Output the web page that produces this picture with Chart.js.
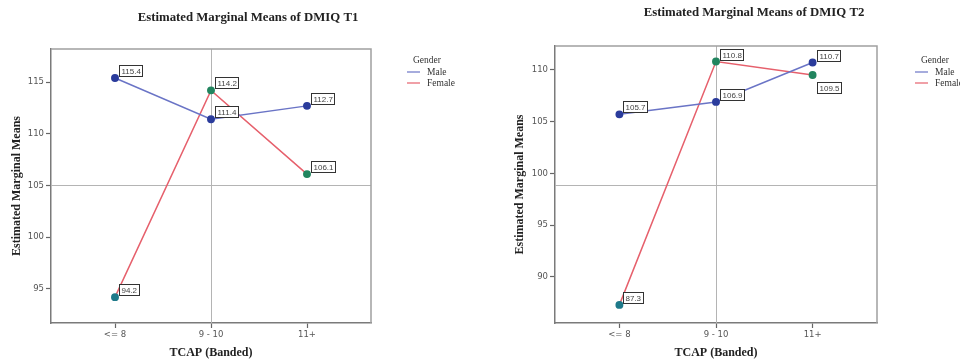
<!DOCTYPE html>
<html>
<head>
<meta charset="utf-8">
<script src="https://cdn.jsdelivr.net/npm/chart.js@4.4.0/dist/chart.umd.min.js"></script>
<style>
  html, body { margin: 0; padding: 0; background: #fff; }
  #wrap { position: relative; width: 960px; height: 363px; overflow: hidden; }
  canvas { position: absolute; top: 0; }
  #chartT1 { left: 0; }
  #chartT2 { left: 480px; }
</style>
</head>
<body>
<div id="wrap">
  <canvas id="chartT1" width="480" height="363"></canvas>
  <canvas id="chartT2" width="480" height="363"></canvas>
</div>
<script>
// TCAP bands on the x axis
const tcapBands = ["<= 8", "9 - 10", "11+"];

// estimated marginal means, DMIQ T1
const maleT1 = [115.4, 111.4, 112.7];
const femaleT1 = [94.2, 114.2, 106.1];
const yTicksT1 = [95, 100, 105, 110, 115];
const refLineT1 = 105;

// estimated marginal means, DMIQ T2
const maleT2 = [105.7, 106.9, 110.7];
const femaleT2 = [87.3, 110.8, 109.5];
const yTicksT2 = [90, 95, 100, 105, 110];
const refLineT2 = 98.9;

const genders = ["Male", "Female"];

const MALE_LINE = "#6a74c6";
const MALE_POINT = "#2b3c9c";
const FEMALE_LINE = "#e6606c";
const FEMALE_POINT = "#22855f";
const FEMALE_POINT_LOW = "#1f7a8a";

// SPSS-like decorations: frame, reference lines, value boxes, titles, legend
const spssPlugin = {
    id: "spss",
    beforeDatasetsDraw(chart, args, o) {
        const { ctx, chartArea: a, scales } = chart;
        ctx.save();
        // reference lines
        ctx.strokeStyle = "#b4b4b4";
        ctx.lineWidth = 1;
        const xr = Math.round(scales.x.getPixelForValue(1)) + 0.5;
        const yr = Math.round(scales.y.getPixelForValue(o.refLine)) + 0.5;
        ctx.beginPath();
        ctx.moveTo(xr, a.top); ctx.lineTo(xr, a.bottom);
        ctx.moveTo(a.left, yr); ctx.lineTo(a.right, yr);
        ctx.stroke();
        // top / right frame
        ctx.strokeStyle = "#a0a0a0";
        ctx.lineWidth = 1.5;
        ctx.beginPath();
        ctx.moveTo(a.left, a.top); ctx.lineTo(a.right, a.top); ctx.lineTo(a.right, a.bottom);
        ctx.stroke();
        ctx.restore();
    },
    afterDatasetsDraw(chart, args, o) {
        const { ctx, chartArea: a } = chart;
        ctx.save();
        // value boxes next to each point
        ctx.font = "8px 'Liberation Sans'";
        ctx.textBaseline = "middle";
        chart.data.datasets.forEach((ds, di) => {
            const meta = chart.getDatasetMeta(di);
            meta.data.forEach((pt, i) => {
                const txt = ds.data[i].y.toFixed(1);
                const w = Math.round(ctx.measureText(txt).width + 4);
                const h = 11;
                const below = (ds.labelBelow || [])[i];
                const bx = Math.round(pt.x + 4) + 0.5;
                const by = below ? Math.round(pt.y + 7) + 0.5 : Math.round(pt.y - 2 - h) + 0.5;
                ctx.fillStyle = "#fff";
                ctx.fillRect(bx, by, w, h);
                ctx.strokeStyle = "#333";
                ctx.lineWidth = 1;
                ctx.strokeRect(bx, by, w, h);
                ctx.fillStyle = "#444";
                ctx.textAlign = "left";
                ctx.fillText(txt, bx + 2, by + h / 2 + 0.5);
            });
        });

        // chart title
        ctx.fillStyle = "#222";
        ctx.font = "bold 12.8px 'Liberation Serif'";
        ctx.textAlign = "center";
        ctx.fillText(o.title, o.titleX, o.titleY);

        // axis titles
        ctx.font = "bold 12px 'Liberation Serif'";
        ctx.fillText("TCAP (Banded)", (a.left + a.right) / 2, 353);
        ctx.save();
        ctx.translate(o.yTitleX, (a.top + a.bottom) / 2);
        ctx.rotate(-Math.PI / 2);
        ctx.fillText("Estimated Marginal Means", 0, 0);
        ctx.restore();

        // legend
        ctx.font = "9.5px 'Liberation Serif'";
        ctx.fillStyle = "#333";
        ctx.textAlign = "left";
        ctx.fillText("Gender", o.legendX + 6, 60);
        chart.data.datasets.forEach((ds, di) => {
            const ly = 72 + di * 11;
            ctx.strokeStyle = ds.borderColor;
            ctx.lineWidth = 1.2;
            ctx.beginPath();
            ctx.moveTo(o.legendX, ly); ctx.lineTo(o.legendX + 13, ly);
            ctx.stroke();
            ctx.fillStyle = "#333";
            ctx.fillText(ds.label, o.legendX + 20, ly);
        });
        ctx.restore();
    }
};

function toPoints(values) {
    return values.map((v, i) => ({ x: i, y: v }));
}

function makeChart(id, male, female, yTicks, yMin, yMax, opts) {
    return new Chart(document.getElementById(id), {
        type: "line",
        data: {
            datasets: [
                {
                    label: genders[0],
                    data: toPoints(male),
                    borderColor: MALE_LINE,
                    backgroundColor: MALE_POINT,
                    pointBackgroundColor: MALE_POINT,
                    pointBorderColor: MALE_POINT,
                    borderWidth: 1.5,
                    pointRadius: 3.2,
                    labelBelow: [false, false, false]
                },
                {
                    label: genders[1],
                    data: toPoints(female),
                    borderColor: FEMALE_LINE,
                    backgroundColor: FEMALE_POINT,
                    pointBackgroundColor: [FEMALE_POINT_LOW, FEMALE_POINT, FEMALE_POINT],
                    pointBorderColor: [FEMALE_POINT_LOW, FEMALE_POINT, FEMALE_POINT],
                    borderWidth: 1.5,
                    pointRadius: 3.2,
                    labelBelow: opts.femaleBelow
                }
            ]
        },
        options: {
            responsive: false,
            animation: false,
            layout: { padding: { left: 0, top: opts.top, right: opts.right, bottom: 0 } },
            scales: {
                x: {
                    type: "linear",
                    min: -2 / 3,
                    max: 8 / 3,
                    afterBuildTicks: s => { s.ticks = tcapBands.map((_, i) => ({ value: i })); },
                    afterFit: s => { s.height = 40; },
                    ticks: {
                        callback: v => tcapBands[v],
                        font: { family: "DejaVu Sans", size: 8.5 },
                        color: "#555",
                        padding: 2,
                        maxRotation: 0
                    },
                    grid: { drawOnChartArea: false, tickLength: 5, tickColor: "#666", tickWidth: 1.2 },
                    border: { color: "#7a7a7a", width: 1.5 }
                },
                y: {
                    min: yMin,
                    max: yMax,
                    afterBuildTicks: s => { s.ticks = yTicks.map(v => ({ value: v })); },
                    afterFit: s => { s.width = opts.left; },
                    ticks: {
                        font: { family: "DejaVu Sans", size: 8.5 },
                        color: "#555",
                        padding: 2
                    },
                    grid: { drawOnChartArea: false, tickLength: 5, tickColor: "#666", tickWidth: 1.2 },
                    border: { color: "#7a7a7a", width: 1.5 }
                }
            },
            plugins: {
                legend: { display: false },
                tooltip: { enabled: false },
                spss: opts.spss
            }
        },
        plugins: [spssPlugin]
    });
}

makeChart("chartT1", maleT1, femaleT1, yTicksT1, 91.7, 118.2, {
    left: 51, right: 109, top: 49,
    femaleBelow: [false, false, false],
    spss: {
        title: "Estimated Marginal Means of DMIQ T1",
        titleX: 248, titleY: 18,
        yTitleX: 17,
        legendX: 407,
        refLine: refLineT1
    }
});

makeChart("chartT2", maleT2, femaleT2, yTicksT2, 85.55, 112.3, {
    left: 75, right: 83, top: 46,
    femaleBelow: [false, false, true],
    spss: {
        title: "Estimated Marginal Means of DMIQ T2",
        titleX: 274, titleY: 13,
        yTitleX: 40,
        legendX: 435,
        refLine: refLineT2
    }
});
</script>
</body>
</html>
